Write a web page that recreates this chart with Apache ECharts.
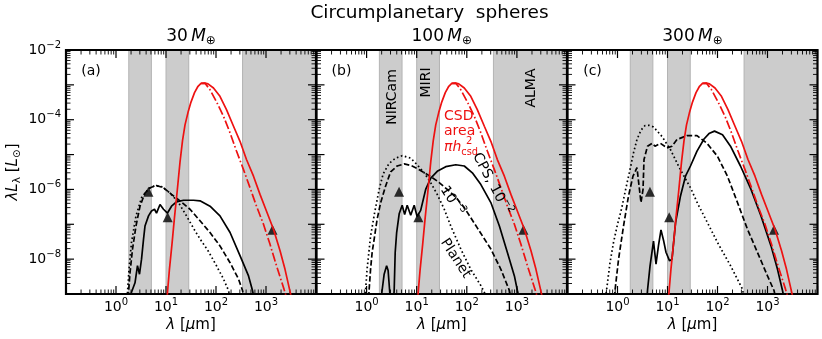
<!DOCTYPE html>
<html>
<head>
<meta charset="utf-8">
<title>Circumplanetary spheres</title>
<script src="https://cdn.jsdelivr.net/npm/echarts@6/dist/echarts.min.js"></script>
<style>
  html, body { margin: 0; padding: 0; background: #fff; }
  #chart { width: 822px; height: 339px; }
</style>
</head>
<body>
<div id="chart"></div>
<script>
// wavelength in micron, luminosity in L_sun
const massLabels = ['30', '100', '300']
const panelTags = ['(a)', '(b)', '(c)']
const bandNames = ['NIRCam', 'MIRI', 'ALMA']
const bands = [[1.8, 5.1], [10, 28.5], [340, 1e4]]
const observed = [[4.45, 8.6e-7], [10.8, 1.6e-7], [1350, 7.0e-8]]

// CSD area curve (red), same in all panels
const csdArea = [[10.5, 7.9e-10], [11.7, 5.0e-9], [13.2, 2.8e-8], [14.8, 1.6e-7], [16.6, 7.9e-7], [19.1, 6.3e-6],
  [21.4, 2.5e-5], [24.0, 7.1e-5], [27.5, 1.6e-4], [31.6, 3.2e-4], [37.2, 6.0e-4], [43.7, 9.1e-4], [50.1, 1.10e-3],
  [60.3, 1.12e-3], [69.2, 1.07e-3], [89.1, 8.1e-4], [120, 4.7e-4], [162, 1.95e-4], [224, 6.5e-5], [302, 2.4e-5],
  [407, 7.2e-6], [562, 2.4e-6], [759, 7.2e-7], [1020, 2.4e-7], [1410, 7.2e-8], [1910, 1.74e-8], [2400, 5.1e-9],
  [2950, 1.38e-9], [3160, 8.9e-10]]
const csdAreaAlt = [[50.1, 1.10e-3], [60.3, 1.12e-3], [75.9, 7.2e-4], [102, 3.3e-4], [141, 1.26e-4], [191, 4.2e-5],
  [257, 1.26e-5], [355, 3.7e-6], [479, 1.12e-6], [646, 3.3e-7], [891, 1.0e-7], [1200, 2.7e-8], [1620, 6.5e-9],
  [2290, 1.38e-9], [2510, 8.9e-10]]

// panel (a) 30 M_earth
const planetA = [[1.66, 7.9e-10], [1.70, 1.12e-9], [1.82, 5.1e-9], [2.04, 3.0e-8], [2.51, 1.74e-7], [3.24, 5.8e-7],
  [4.47, 1.05e-6], [6.03, 1.29e-6], [8.13, 1.20e-6], [12.0, 7.9e-7], [17.8, 4.2e-7], [25.7, 1.74e-7], [38.0, 6.5e-8],
  [47.9, 3.8e-8], [70.8, 1.66e-8], [102, 6.5e-9], [141, 2.7e-9], [178, 1.26e-9], [191, 7.9e-10]]
const cpsLowA = [[1.74, 7.9e-10], [1.78, 1.12e-9], [1.91, 4.2e-9], [2.14, 1.95e-8], [2.51, 8.9e-8], [3.02, 3.3e-7],
  [3.80, 7.9e-7], [4.79, 1.12e-6], [6.46, 1.29e-6], [8.91, 1.12e-6], [12.9, 7.2e-7], [19.1, 4.7e-7], [30.2, 2.7e-7],
  [47.9, 1.26e-7], [75.9, 5.8e-8], [120, 2.4e-8], [191, 7.9e-9], [282, 2.7e-9], [339, 1.26e-9], [363, 7.9e-10]]
const cpsHighA = [[1.95, 7.9e-10], [2.04, 1.12e-9], [2.40, 2.1e-9], [2.69, 6.5e-9], [2.95, 3.7e-9], [3.24, 1.0e-8],
  [3.55, 3.7e-8], [3.80, 8.9e-8], [4.47, 1.74e-7], [5.13, 2.4e-7], [5.89, 2.7e-7], [6.46, 2.1e-7], [7.59, 3.7e-7],
  [8.91, 2.7e-7], [10.7, 2.1e-7], [12.9, 3.3e-7], [16.2, 4.4e-7], [22.4, 4.9e-7], [35.5, 4.9e-7], [47.9, 4.7e-7],
  [75.9, 3.3e-7], [120, 1.74e-7], [191, 5.8e-8], [302, 1.26e-8], [447, 3.3e-9], [537, 1.26e-9], [575, 7.9e-10]]

// panel (b) 100 M_earth
const planetB = [[0.933, 7.9e-10], [0.955, 1.26e-9], [1.02, 5.0e-9], [1.20, 4.5e-8], [1.45, 2.2e-7], [1.78, 1.0e-6],
  [2.14, 2.8e-6], [2.82, 5.6e-6], [3.80, 7.9e-6], [5.13, 9.3e-6], [7.59, 7.9e-6], [10.2, 5.1e-6], [14.1, 3.0e-6],
  [19.1, 1.55e-6], [25.7, 7.2e-7], [35.5, 2.7e-7], [47.9, 8.9e-8], [75.9, 1.95e-8], [120, 5.1e-9], [191, 1.74e-9],
  [224, 1.12e-9], [240, 7.9e-10]]
const cpsLowB = [[1.10, 7.9e-10], [1.12, 1.26e-9], [1.20, 5.1e-9], [1.29, 1.55e-8], [1.45, 4.7e-8], [1.62, 1.38e-7],
  [1.91, 4.2e-7], [2.40, 1.26e-6], [3.02, 3.2e-6], [4.07, 4.7e-6], [5.62, 5.4e-6], [7.59, 4.9e-6], [10.2, 4.0e-6],
  [16.2, 2.7e-6], [25.7, 1.74e-6], [40.7, 1.0e-6], [60.3, 6.0e-7], [89.1, 3.0e-7], [162, 7.9e-8], [302, 1.95e-8],
  [479, 5.1e-9], [708, 1.26e-9], [759, 7.9e-10]]
const cpsHighB = [[1.95, 7.9e-10], [2.04, 1.26e-9], [2.24, 3.7e-9], [2.51, 6.5e-9], [2.69, 4.7e-9], [2.88, 1.26e-9],
  [2.95, 7.9e-10], [3.2, null], [3.47, 7.9e-10], [3.55, 1.26e-9], [3.72, 1.55e-8], [3.98, 5.8e-8], [4.47, 2.0e-7],
  [5.13, 3.5e-7], [5.75, 1.9e-7], [6.46, 3.5e-7], [7.59, 1.82e-7], [8.91, 3.5e-7], [10.2, 1.66e-7], [12.0, 2.5e-7],
  [15.1, 1.0e-6], [19.1, 2.1e-6], [25.7, 3.3e-6], [38.0, 4.5e-6], [60.3, 5.1e-6], [89.1, 4.7e-6], [129, 3.0e-6],
  [191, 1.38e-6], [302, 4.2e-7], [447, 8.9e-8], [646, 1.55e-8], [891, 3.3e-9], [1023, 1.26e-9], [1096, 7.9e-10]]

// panel (c) 300 M_earth
const planetC = [[0.575, 7.9e-10], [0.603, 1.26e-9], [0.708, 7.9e-9], [0.832, 3.0e-8], [1.0, 1.0e-7], [1.20, 2.7e-7],
  [1.48, 1.12e-6], [1.78, 3.7e-6], [2.09, 1.12e-5], [2.45, 2.7e-5], [2.95, 5.0e-5], [3.55, 6.8e-5], [4.27, 6.9e-5],
  [5.25, 6.2e-5], [7.76, 3.3e-5], [11.5, 1.38e-5], [16.6, 4.7e-6], [22.9, 2.0e-6], [28.8, 1.12e-6], [39.8, 4.0e-7],
  [53.7, 1.74e-7], [100, 3.0e-8], [182, 6.5e-9], [316, 1.38e-9], [339, 7.9e-10]]
const cpsLowC = [[0.871, 7.9e-10], [0.891, 1.26e-9], [1.05, 1.0e-8], [1.32, 8.9e-8], [1.66, 6.5e-7], [2.04, 2.4e-6],
  [2.45, 4.2e-6], [2.75, 1.0e-6], [2.95, 4.2e-7], [3.24, 1.0e-6], [3.39, 7.2e-6], [3.98, 1.74e-5], [4.90, 2.1e-5],
  [5.62, 1.74e-5], [7.24, 2.1e-5], [9.77, 1.55e-5], [12.3, 1.74e-5], [15.5, 2.7e-5], [24.5, 3.5e-5], [38.9, 3.5e-5],
  [61.7, 2.1e-5], [100, 8.9e-6], [158, 2.4e-6], [251, 4.2e-7], [398, 7.2e-8], [631, 1.55e-8], [1000, 3.3e-9],
  [1350, 1.26e-9], [1450, 7.9e-10]]
const cpsHighC = [[3.89, 7.9e-10], [3.98, 1.26e-9], [4.47, 6.3e-9], [5.25, 3.3e-8], [5.89, 7.2e-9], [6.61, 2.5e-8],
  [7.41, 6.9e-8], [8.32, 3.5e-8], [9.33, 1.58e-8], [11.0, 8.9e-9], [12.3, 1.0e-8], [14.5, 1.12e-7], [18.2, 6.5e-7],
  [22.9, 2.4e-6], [28.8, 4.7e-6], [38.9, 1.26e-5], [53.7, 2.8e-5], [67.6, 4.0e-5], [87.1, 4.7e-5], [126, 3.7e-5],
  [182, 1.74e-5], [288, 4.7e-6], [468, 1.0e-6], [741, 1.74e-7], [1175, 2.4e-8], [1585, 5.1e-9], [1995, 1.26e-9],
  [2138, 7.9e-10]]

const planets = [planetA, planetB, planetC]
const cpsLow = [cpsLowA, cpsLowB, cpsLowC]
const cpsHigh = [cpsHighA, cpsHighB, cpsHighC]

const X_MIN = 0.1, X_MAX = 1e4, Y_MIN = 1e-9, Y_MAX = 1e-2
const minorSteps = [2, 3, 4, 5, 6, 7, 8, 9]

const FONT = "'DejaVu Sans', sans-serif"
const RED = '#ee1111'
const GRIDS = [{ left: 66, width: 250 }, { left: 316.5, width: 250.5 }, { left: 567.5, width: 250 }]
const TOP = 50, HEIGHT = 244
const MAJOR = 8, MINOR = 4.5

const chart = echarts.init(document.getElementById('chart'))

function decades(fromExp, toExp) {
  const out = []
  for (let e = fromExp; e <= toExp; e++) out.push(Math.pow(10, e))
  return out
}

function minors(fromExp, toExp) {
  const out = []
  for (let e = fromExp; e < toExp; e++) minorSteps.forEach((m) => out.push(m * Math.pow(10, e)))
  return out
}

function powerLabel(v) {
  const e = Math.round(Math.log10(v))
  return '10{sup|' + (e < 0 ? '\u2212' + -e : e) + '}'
}

const labelRich = {
  sup: { fontSize: 10, fontFamily: FONT, color: '#000', verticalAlign: 'top', lineHeight: 10 },
}

function richFor(size, color) {
  return {
    i: { fontStyle: 'italic', fontSize: size, fontFamily: FONT, fill: color, lineHeight: 20 },
    n: { fontSize: size, fontFamily: FONT, fill: color, lineHeight: 20 },
    sup: { fontSize: size * 0.7, fontFamily: FONT, fill: color, verticalAlign: 'top', lineHeight: 10 },
    sub: { fontSize: size * 0.7, fontFamily: FONT, fill: color, verticalAlign: 'bottom', lineHeight: 10 },
  }
}

function txt(x, y, text, opts) {
  opts = opts || {}
  const size = opts.size || 14
  const color = opts.color || '#000'
  return {
    type: 'text',
    x: x,
    y: y,
    rotation: ((opts.rot || 0) * Math.PI) / 180,
    z: 100,
    silent: true,
    style: {
      text: text,
      fill: color,
      fontSize: size,
      fontFamily: FONT,
      align: opts.align || 'center',
      verticalAlign: 'middle',
      lineHeight: 20,
      rich: richFor(size, color),
    },
  }
}

// gray instrument bands, full plot height
function bandItem(params, api) {
  const cs = params.coordSys
  const x0 = api.coord([api.value(0), 1e-5])[0]
  const x1 = api.coord([api.value(1), 1e-5])[0]
  return {
    type: 'rect',
    shape: { x: x0, y: cs.y, width: x1 - x0, height: cs.height },
    style: { fill: '#cccccc', stroke: '#b4b4b4', lineWidth: 1 },
  }
}

// one side of ticks; each tick is a thin filled rect placed through the axis scale
function tickSeries(i, values, side, len, width) {
  const onX = side === 'bottom' || side === 'top'
  return {
    type: 'custom',
    xAxisIndex: i,
    yAxisIndex: i,
    data: values.map((v) => (onX ? [v, 1e-5] : [1, v])),
    renderItem: (params, api) => {
      const cs = params.coordSys
      const p = api.coord([api.value(0), api.value(1)])
      let shape
      if (side === 'bottom') shape = { x: p[0] - width / 2, y: cs.y + cs.height - len, width: width, height: len }
      else if (side === 'top') shape = { x: p[0] - width / 2, y: cs.y, width: width, height: len }
      else if (side === 'left') shape = { x: cs.x, y: p[1] - width / 2, width: len, height: width }
      else shape = { x: cs.x + cs.width - len, y: p[1] - width / 2, width: len, height: width }
      return { type: 'rect', shape: shape, style: { fill: '#000' } }
    },
  }
}

// plot frame
function frameItem(params) {
  const cs = params.coordSys
  return {
    type: 'rect',
    shape: { x: cs.x, y: cs.y, width: cs.width, height: cs.height },
    style: { fill: null, stroke: '#000', lineWidth: 2.2 },
  }
}

const grid = []
const xAxis = []
const yAxis = []
const series = []

GRIDS.forEach((g, i) => {
  grid.push({ left: g.left, top: TOP, width: g.width, height: HEIGHT })

  xAxis.push({
    type: 'log',
    gridIndex: i,
    min: X_MIN,
    max: X_MAX,
    axisLine: { show: false },
    axisTick: { show: false },
    splitLine: { show: false },
    axisLabel: {
      show: true,
      margin: 3,
      fontSize: 14,
      fontFamily: FONT,
      color: '#000',
      lineHeight: 20,
      rich: labelRich,
      formatter: (v) => {
        const e = Math.round(Math.log10(v))
        return e >= 0 && e <= 3 ? powerLabel(v) : ''
      },
    },
  })

  yAxis.push({
    type: 'log',
    gridIndex: i,
    min: Y_MIN,
    max: Y_MAX,
    axisLine: { show: false },
    axisTick: { show: false },
    splitLine: { show: false },
    axisLabel: {
      show: i === 0,
      margin: 5,
      fontSize: 14,
      fontFamily: FONT,
      color: '#000',
      lineHeight: 20,
      rich: labelRich,
      formatter: (v) => {
        const e = Math.round(Math.log10(v))
        return e % 2 === 0 ? powerLabel(v) : ''
      },
    },
  })

  series.push({
    type: 'custom',
    xAxisIndex: i,
    yAxisIndex: i,
    data: bands,
    renderItem: bandItem,
  })

  const curve = (data, color, type, width) => ({
    type: 'line',
    xAxisIndex: i,
    yAxisIndex: i,
    data: data,
    symbol: 'none',
    clip: true,
    lineStyle: { color: color, width: width, type: type, cap: 'butt' },
  })

  series.push(curve(planets[i], '#000', [1.6, 2.6], 1.7))
  series.push(curve(cpsLow[i], '#000', [5.5, 2.5], 1.7))
  series.push(curve(cpsHigh[i], '#000', 'solid', 1.7))
  series.push(curve(csdAreaAlt, RED, [9, 2.5, 1.6, 2.5], 1.7))
  series.push(curve(csdArea, RED, 'solid', 1.7))

  series.push({
    type: 'scatter',
    xAxisIndex: i,
    yAxisIndex: i,
    data: observed,
    symbol: 'triangle',
    symbolSize: 10,
    itemStyle: { color: '#000' },
  })

  const xMajor = decades(-1, 4), xMinor = minors(-1, 4)
  const yMajor = decades(-9, -2), yMinor = minors(-9, -2)
  series.push(tickSeries(i, xMajor, 'bottom', MAJOR, 1.2))
  series.push(tickSeries(i, xMinor, 'bottom', MINOR, 0.9))
  series.push(tickSeries(i, xMajor, 'top', MAJOR, 1.2))
  series.push(tickSeries(i, xMinor, 'top', MINOR, 0.9))
  series.push(tickSeries(i, yMajor, 'left', MAJOR, 1.2))
  series.push(tickSeries(i, yMinor, 'left', MINOR, 0.9))
  series.push(tickSeries(i, yMajor, 'right', MAJOR, 1.2))
  series.push(tickSeries(i, yMinor, 'right', MINOR, 0.9))

  series.push({
    type: 'custom',
    xAxisIndex: i,
    yAxisIndex: i,
    data: [[1, 1e-5]],
    renderItem: frameItem,
  })
})

const centers = GRIDS.map((g) => g.left + g.width / 2)

const graphic = [
  txt(429.5, 13, 'Circumplanetary  spheres', { size: 18.5 }),
  txt(13, 172, '{i|\u03bbL}{sub|\u03bb}{n| [}{i|L}{sub|\u2299}{n|]}', { size: 15, rot: 90 }),
]
centers.forEach((cx, i) => {
  graphic.push(txt(cx, 37, '{n|' + massLabels[i] + '\u2009}{i|M}{sub|\u2295}', { size: 17 }))
  graphic.push(txt(cx, 325, '{i|\u03bb}{n| [}{i|\u03bc}{n|m]}', { size: 15 }))
  graphic.push(txt(GRIDS[i].left + 25, 71, panelTags[i], { size: 14 }))
})

// panel (b) annotations
graphic.push(txt(392.5, 97, bandNames[0], { rot: 90 }))
graphic.push(txt(426, 82.5, bandNames[1], { rot: 90 }))
graphic.push(txt(531, 88, bandNames[2], { rot: 90 }))
graphic.push(txt(444, 116, 'CSD', { color: RED, align: 'left' }))
graphic.push(txt(444, 131.5, 'area', { color: RED, align: 'left' }))
graphic.push(txt(444, 147, '{i|\u03c0h}{sub|csd}', { color: RED, align: 'left' }))
graphic.push(txt(466, 141, '2', { color: RED, align: 'left', size: 10 }))
graphic.push(txt(492, 184, 'CPS, 10{sup|\u22122}', { rot: -62 }))
graphic.push(txt(452, 201, '10{sup|\u22123}', { rot: -58 }))
graphic.push(txt(455.5, 258.5, 'Planet', { rot: -57 }))

chart.setOption({
  animation: false,
  grid: grid,
  xAxis: xAxis,
  yAxis: yAxis,
  series: series,
  graphic: graphic,
})
</script>
</body>
</html>
